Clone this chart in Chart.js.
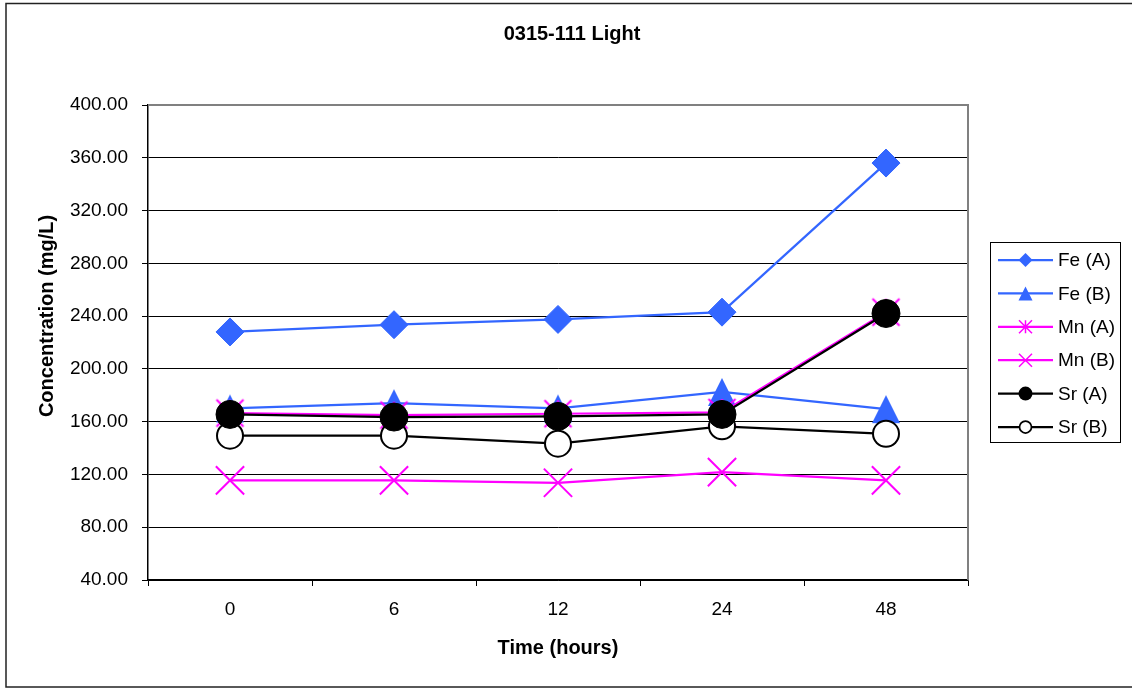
<!DOCTYPE html>
<html>
<head>
<meta charset="utf-8">
<script src="https://cdn.jsdelivr.net/npm/chart.js@4/dist/chart.umd.min.js"></script>
<style>
  html, body { margin: 0; padding: 0; background: #fff; }
  #wrap { width: 1132px; height: 688px; position: relative; }
</style>
</head>
<body>
<div id="wrap"><canvas id="c" width="1132" height="688"></canvas></div>
<script>
// ---- data ----
const hours = ['0', '6', '12', '24', '48'];
const feA = [228, 233.5, 237.5, 243, 356];
const feB = [170, 174, 170, 182.5, 169.5];
const mnA = [166.5, 165, 166, 167, 243];
const mnB = [115.5, 115.5, 113.7, 121.8, 115.5];
const srA = [165.5, 163.5, 164, 165.5, 242];
const srB = [149.4, 149.4, 143.3, 156.5, 150.8];
const seriesNames = ['Fe (A)', 'Fe (B)', 'Mn (A)', 'Mn (B)', 'Sr (A)', 'Sr (B)'];
const drawOrder = [5, 4, 3, 2, 0, 1]; // lower = drawn on top
const yTicks = [40, 80, 120, 160, 200, 240, 280, 320, 360, 400];

const FONT = "'Liberation Sans', Arial, Helvetica, sans-serif";
const BLUE = '#3366FF';
const PINK = '#FF00FF';
const BLACK = '#000000';

// custom marker images (bbox-centred like the original)
function makeTriangle(size, color) {
  const c = document.createElement('canvas');
  c.width = size + 2; c.height = size + 2;
  const g = c.getContext('2d');
  g.fillStyle = color;
  g.beginPath();
  g.moveTo(c.width / 2, 1);
  g.lineTo(c.width - 1, c.height - 1);
  g.lineTo(1, c.height - 1);
  g.closePath();
  g.fill();
  return c;
}
function makeStar(half, color, lw) {
  const s = Math.ceil(half * 2 + lw + 2);
  const c = document.createElement('canvas');
  c.width = s; c.height = s;
  const g = c.getContext('2d');
  const m = s / 2;
  g.strokeStyle = color; g.lineWidth = lw;
  g.beginPath();
  g.moveTo(m - half, m - half); g.lineTo(m + half, m + half);
  g.moveTo(m + half, m - half); g.lineTo(m - half, m + half);
  g.moveTo(m, m - half); g.lineTo(m, m + half);
  g.stroke();
  return c;
}
const triImg = makeTriangle(28, BLUE);
const starImg = makeStar(13.5, PINK, 2);

const valueSets = [feA, feB, mnA, mnB, srA, srB];
const styles = [
  { color: BLUE, pointStyle: 'rectRot', radius: 14, bg: BLUE, bw: 1 },
  { color: BLUE, pointStyle: triImg, radius: 14, bg: BLUE, bw: 1 },
  { color: PINK, pointStyle: starImg, radius: 14, bg: PINK, bw: 2 },
  { color: PINK, pointStyle: 'crossRot', radius: 20, bg: PINK, bw: 2 },
  { color: BLACK, pointStyle: 'circle', radius: 14, bg: BLACK, bw: 1 },
  { color: BLACK, pointStyle: 'circle', radius: 13, bg: '#FFFFFF', bw: 2 }
];

const datasets = seriesNames.map((name, i) => ({
  label: name,
  data: valueSets[i],
  borderColor: styles[i].color,
  backgroundColor: styles[i].bg,
  borderWidth: 2.25,
  tension: 0,
  pointStyle: styles[i].pointStyle,
  pointRadius: styles[i].radius,
  pointHoverRadius: styles[i].radius,
  pointBorderColor: styles[i].color,
  pointBackgroundColor: styles[i].bg,
  pointBorderWidth: styles[i].bw,
  order: drawOrder[i]
}));

// background + outer border + plot border
const framePlugin = {
  id: 'frame',
  beforeDraw(chart) {
    const ctx = chart.ctx;
    ctx.save();
    ctx.fillStyle = '#fff';
    ctx.fillRect(0, 0, chart.width, chart.height);
    ctx.strokeStyle = '#222';
    ctx.lineWidth = 1.5;
    ctx.strokeRect(6, 3.5, chart.width + 20, 683.5);
    ctx.restore();
  },
  beforeDatasetsDraw(chart) {
    const { ctx, chartArea: a } = chart;
    ctx.save();
    ctx.strokeStyle = '#808080';
    ctx.lineWidth = 2;
    ctx.beginPath();
    ctx.moveTo(a.left, a.top);
    ctx.lineTo(a.right, a.top);
    ctx.lineTo(a.right, a.bottom);
    ctx.stroke();
    ctx.restore();
  }
};

// rotated y-axis title
const yTitlePlugin = {
  id: 'yTitle',
  afterDraw(chart) {
    const ctx = chart.ctx;
    ctx.save();
    ctx.translate(47, 316);
    ctx.rotate(-Math.PI / 2);
    ctx.font = 'bold 20px ' + FONT;
    ctx.fillStyle = '#000';
    ctx.textAlign = 'center';
    ctx.textBaseline = 'middle';
    ctx.fillText('Concentration (mg/L)', 0, 0);
    ctx.restore();
  }
};

// Excel-style legend box
function drawMarker(ctx, i, x, y) {
  const st = styles[i];
  ctx.save();
  ctx.fillStyle = st.bg;
  ctx.strokeStyle = st.color;
  ctx.lineWidth = i === 5 ? 1.75 : 1.5;
  ctx.beginPath();
  if (i === 0) {
    const r = 7;
    ctx.moveTo(x - r, y); ctx.lineTo(x, y - r); ctx.lineTo(x + r, y); ctx.lineTo(x, y + r);
    ctx.closePath(); ctx.fill();
  } else if (i === 1) {
    const r = 7;
    ctx.moveTo(x, y - r); ctx.lineTo(x + r, y + r); ctx.lineTo(x - r, y + r);
    ctx.closePath(); ctx.fill();
  } else if (i === 2) {
    const r = 6.5;
    ctx.moveTo(x - r, y - r); ctx.lineTo(x + r, y + r);
    ctx.moveTo(x + r, y - r); ctx.lineTo(x - r, y + r);
    ctx.moveTo(x, y - r); ctx.lineTo(x, y + r);
    ctx.stroke();
  } else if (i === 3) {
    const r = 6.5;
    ctx.moveTo(x - r, y - r); ctx.lineTo(x + r, y + r);
    ctx.moveTo(x + r, y - r); ctx.lineTo(x - r, y + r);
    ctx.stroke();
  } else if (i === 4) {
    ctx.arc(x, y, 7, 0, Math.PI * 2);
    ctx.fill();
  } else {
    ctx.arc(x, y, 6, 0, Math.PI * 2);
    ctx.fill(); ctx.stroke();
  }
  ctx.restore();
}
const legendPlugin = {
  id: 'xlLegend',
  afterDraw(chart) {
    const ctx = chart.ctx;
    ctx.save();
    ctx.strokeStyle = '#000';
    ctx.lineWidth = 1;
    ctx.strokeRect(990.5, 242.5, 130, 200);
    ctx.font = '19px ' + FONT;
    ctx.textBaseline = 'middle';
    ctx.textAlign = 'left';
    chart.data.datasets.forEach((ds, i) => {
      const y = 260 + i * 33.4;
      ctx.strokeStyle = ds.borderColor;
      ctx.lineWidth = 2.25;
      ctx.beginPath();
      ctx.moveTo(998, y); ctx.lineTo(1053, y);
      ctx.stroke();
      drawMarker(ctx, i, 1025.5, y);
      ctx.fillStyle = '#000';
      ctx.fillText(ds.label, 1058, y + 1);
    });
    ctx.restore();
  }
};

new Chart(document.getElementById('c'), {
  type: 'line',
  data: { labels: hours, datasets },
  plugins: [framePlugin, yTitlePlugin, legendPlugin],
  options: {
    responsive: false,
    animation: false,
    devicePixelRatio: 1,
    layout: { padding: { left: 12, top: 0, right: 0, bottom: 0 } },
    plugins: {
      legend: { display: false },
      tooltip: { enabled: false },
      title: {
        display: true,
        text: '0315-111 Light',
        color: '#000',
        font: { family: FONT, size: 20, weight: 'bold', lineHeight: 1.2 },
        padding: { top: 22, bottom: 59 }
      }
    },
    scales: {
      x: {
        type: 'category',
        offset: true,
        afterFit(scale) { scale.height = 108; },
        grid: {
          offset: true,
          drawOnChartArea: false,
          drawTicks: true,
          tickLength: 6,
          color: '#000',
          tickColor: '#000'
        },
        border: { color: '#000', width: 1.5 },
        ticks: {
          color: '#000',
          padding: 12,
          maxRotation: 0,
          font: { family: FONT, size: 19 }
        },
        title: {
          display: true,
          text: 'Time (hours)',
          color: '#000',
          font: { family: FONT, size: 20, weight: 'bold', lineHeight: 1.2 },
          padding: { top: 0, bottom: 28 }
        }
      },
      y: {
        min: 40,
        max: 400,
        afterFit(scale) { scale.width = 136; },
        afterBuildTicks(scale) { scale.ticks = yTicks.map(v => ({ value: v })); },
        grid: {
          drawTicks: true,
          tickLength: 6,
          color: (c) => (c.tick && c.tick.value === 400 ? 'rgba(0,0,0,0)' : '#000'),
          tickColor: '#000',
          lineWidth: 1
        },
        border: { color: '#000', width: 1.5 },
        ticks: {
          color: '#000',
          padding: 14,
          font: { family: FONT, size: 19 },
          callback: (v) => Number(v).toFixed(2)
        },
        title: { display: false }
      },
      yLegendSpace: {
        position: 'right',
        display: true,
        afterFit(scale) { scale.width = 164; },
        grid: { display: false, drawTicks: false },
        border: { display: false },
        ticks: { display: false },
        title: { display: false }
      }
    }
  }
});
</script>
</body>
</html>
